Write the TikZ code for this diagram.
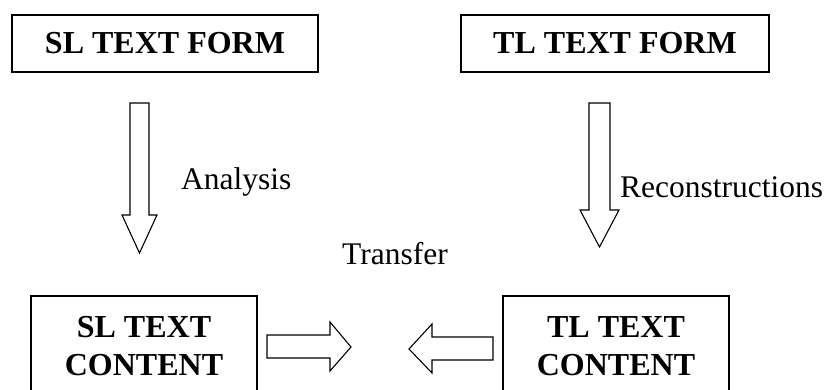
\documentclass[tikz,border=0pt]{standalone}
\usepackage{fontspec}
\setmainfont{Liberation Serif}
\begin{document}
\begin{tikzpicture}[x=1pt,y=-1pt,
  box/.style={draw,line width=1.2pt,inner sep=0pt,align=center,font=\fontsize{32}{38}\selectfont\bfseries},
  lbl/.style={inner sep=0pt,font=\fontsize{31.5}{38}\selectfont},
  blk/.style={draw,line width=1.1pt,line join=miter,fill=white}]
\useasboundingbox (0,0) rectangle (829,390);
\clip (0,0) rectangle (829,390);
\node[box,minimum width=306pt,minimum height=57pt] (slf) at (165,43.5) {SL TEXT FORM};
\node[box,minimum width=308pt,minimum height=57pt] (tlf) at (615,43.5) {TL TEXT FORM};
\node[box,minimum width=226pt,minimum height=100pt] (slc) at (144,346) {SL TEXT\\CONTENT};
\node[box,minimum width=226pt,minimum height=100pt] (tlc) at (616,346) {TL TEXT\\CONTENT};
\node[lbl,anchor=west] (ana) at (181,182) {Analysis};
\node[lbl,anchor=west] (rec) at (620,187) {Reconstructions};
\node[lbl] (tra) at (395,254) {Transfer};
% left down arrow
\draw[blk] (130,103) -- (149,103) -- (149,215) -- (157,215) -- (139.5,253) -- (122,215) -- (130,215) -- cycle;
% right down arrow
\draw[blk] (589,103) -- (610,103) -- (610,210) -- (619,210) -- (599.5,247) -- (580,210) -- (589,210) -- cycle;
% right-pointing arrow
\draw[blk] (267,335) -- (330,335) -- (330,322) -- (351,347) -- (330,371) -- (330,358) -- (267,358) -- cycle;
% left-pointing arrow
\draw[blk] (493,337) -- (432,337) -- (432,324) -- (409,349) -- (432,373) -- (432,360) -- (493,360) -- cycle;
\end{tikzpicture}
\end{document}
